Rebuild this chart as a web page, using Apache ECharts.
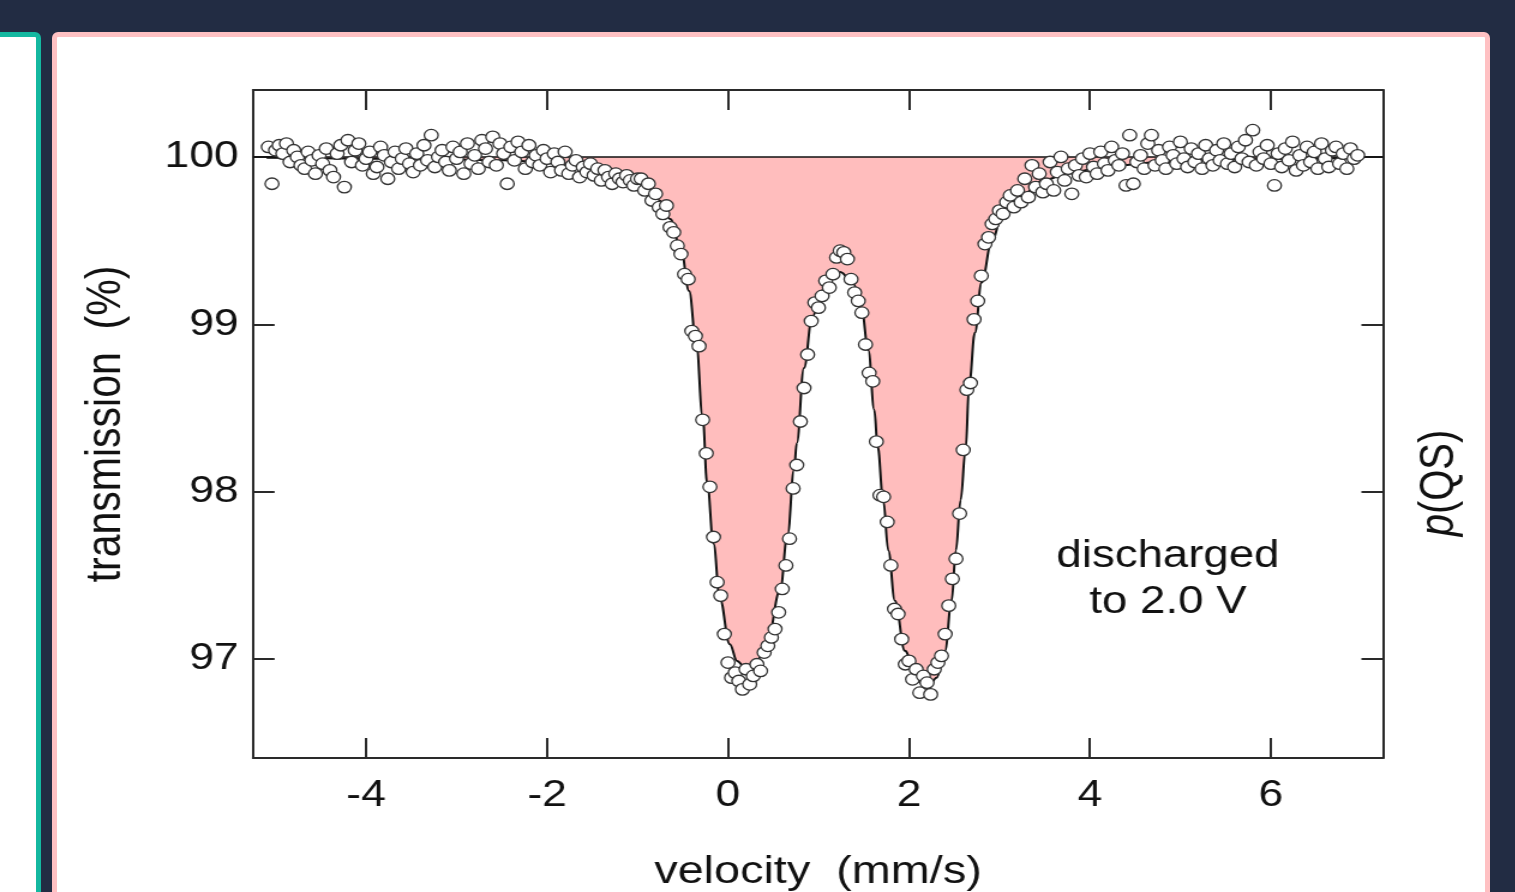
<!DOCTYPE html>
<html>
<head>
<meta charset="utf-8">
<title>transmission vs velocity</title>
<script src="https://cdn.jsdelivr.net/npm/echarts@6/dist/echarts.min.js"></script>
<style>
    html, body {
        margin: 0;
        padding: 0;
        width: 1515px;
        height: 892px;
        overflow: hidden;
        background: #222c43;
    }
    .card-left {
        position: absolute;
        left: -30px;
        top: 32px;
        width: 71px;
        height: 1000px;
        box-sizing: border-box;
        border: 5px solid #14b8a0;
        border-radius: 6px;
        background: #fff;
    }
    .card-main {
        position: absolute;
        left: 52px;
        top: 32px;
        width: 1438px;
        height: 1000px;
        box-sizing: border-box;
        border: 5px solid #ffc1c3;
        border-radius: 6px;
        background: #fff;
    }
    /* the source figure is stretched sideways, so the chart is too */
    #chart {
        position: absolute;
        left: 0;
        top: 0;
        width: 1263px;
        height: 892px;
        transform: scaleX(1.2);
        transform-origin: 0 0;
    }
</style>
</head>
<body>
<div class="card-left"></div>
<div class="card-main"></div>
<div id="chart"></div>

<script>
    // measured points, velocity (mm/s)
    const velocity = [
        -5.08, -5.04, -5.00, -4.96, -4.92, -4.88, -4.84, -4.80, -4.76, -4.72,
        -4.68, -4.64, -4.60, -4.56, -4.52, -4.48, -4.44, -4.40, -4.36, -4.32,
        -4.28, -4.24, -4.20, -4.16, -4.12, -4.08, -4.04, -4.00, -3.96, -3.92,
        -3.88, -3.84, -3.80, -3.76, -3.72, -3.68, -3.64, -3.60, -3.56, -3.52,
        -3.48, -3.44, -3.40, -3.36, -3.32, -3.28, -3.24, -3.20, -3.16, -3.12,
        -3.08, -3.04, -3.00, -2.96, -2.92, -2.88, -2.84, -2.80, -2.76, -2.72,
        -2.68, -2.64, -2.60, -2.56, -2.52, -2.48, -2.44, -2.40, -2.36, -2.32,
        -2.28, -2.24, -2.20, -2.16, -2.12, -2.08, -2.04, -2.00, -1.96, -1.92,
        -1.88, -1.84, -1.80, -1.76, -1.72, -1.68, -1.64, -1.60, -1.56, -1.52,
        -1.48, -1.44, -1.40, -1.36, -1.32, -1.28, -1.24, -1.20, -1.16, -1.12,
        -1.08, -1.04, -1.00, -0.96, -0.92, -0.88, -0.84, -0.80, -0.76, -0.72,
        -0.68, -0.64, -0.60, -0.56, -0.52, -0.48, -0.44, -0.40, -0.36, -0.32,
        -0.28, -0.24, -0.20, -0.16, -0.12, -0.08, -0.04, 0.00, 0.04, 0.08,
        0.12, 0.16, 0.20, 0.24, 0.28, 0.32, 0.36, 0.40, 0.44, 0.48,
        0.52, 0.56, 0.60, 0.64, 0.68, 0.72, 0.76, 0.80, 0.84, 0.88,
        0.92, 0.96, 1.00, 1.04, 1.08, 1.12, 1.16, 1.20, 1.24, 1.28,
        1.32, 1.36, 1.40, 1.44, 1.48, 1.52, 1.56, 1.60, 1.64, 1.68,
        1.72, 1.76, 1.80, 1.84, 1.88, 1.92, 1.96, 2.00, 2.04, 2.08,
        2.12, 2.16, 2.20, 2.24, 2.28, 2.32, 2.36, 2.40, 2.44, 2.48,
        2.52, 2.56, 2.60, 2.64, 2.68, 2.72, 2.76, 2.80, 2.84, 2.88,
        2.92, 2.96, 3.00, 3.04, 3.08, 3.12, 3.16, 3.20, 3.24, 3.28,
        3.32, 3.36, 3.40, 3.44, 3.48, 3.52, 3.56, 3.60, 3.64, 3.68,
        3.72, 3.76, 3.80, 3.84, 3.88, 3.92, 3.96, 4.00, 4.04, 4.08,
        4.12, 4.16, 4.20, 4.24, 4.28, 4.32, 4.36, 4.40, 4.44, 4.48,
        4.52, 4.56, 4.60, 4.64, 4.68, 4.72, 4.76, 4.80, 4.84, 4.88,
        4.92, 4.96, 5.00, 5.04, 5.08, 5.12, 5.16, 5.20, 5.24, 5.28,
        5.32, 5.36, 5.40, 5.44, 5.48, 5.52, 5.56, 5.60, 5.64, 5.68,
        5.72, 5.76, 5.80, 5.84, 5.88, 5.92, 5.96, 6.00, 6.04, 6.08,
        6.12, 6.16, 6.20, 6.24, 6.28, 6.32, 6.36, 6.40, 6.44, 6.48,
        6.52, 6.56, 6.60, 6.64, 6.68, 6.72, 6.76, 6.80, 6.84, 6.88,
        6.92, 6.96
    ];

    // measured points, transmission (%)
    const transmission = [
        // left wing
        100.06, 99.84, 100.04, 100.07, 100.02, 100.08, 99.97, 100.04, 100.00, 99.95,
        99.93, 100.03, 99.98, 99.90, 100.01, 99.96, 100.05, 99.92, 99.88, 100.02,
        100.07, 99.82, 100.10, 99.97, 100.04, 100.08, 99.95, 99.99, 100.03, 99.90,
        99.94, 100.06, 100.01, 99.87, 99.97, 100.03, 99.93, 99.99, 100.05, 99.96,
        99.91, 100.02, 99.95, 100.07, 99.98, 100.13, 99.94, 100.00, 100.04, 99.97,
        99.92, 100.06, 99.99, 100.03, 99.90, 100.08, 99.96, 100.01, 99.93, 100.10,
        100.05, 99.97, 100.12, 99.95, 100.08, 100.02, 99.84, 100.06, 99.98, 100.09,
        100.03, 99.93, 100.07, 99.97, 100.01, 99.95, 100.04, 99.99, 99.91, 100.02,
        99.97, 99.92, 100.03, 99.90, 99.95, 99.98, 99.88, 99.94, 99.91, 99.96,
        99.89, 99.93, 99.86, 99.92, 99.88, 99.84, 99.90, 99.87, 99.85, 99.89,
        99.86, 99.83, 99.87,
        // doublet
        99.87, 99.80, 99.84, 99.74, 99.78, 99.70, 99.66, 99.71, 99.58, 99.55,
        99.47, 99.42, 99.30, 99.27, 98.96, 98.93, 98.87, 98.43, 98.23, 98.03,
        97.73, 97.46, 97.38, 97.15, 96.98, 96.89, 96.92, 96.87, 96.82, 96.94,
        96.85, 96.90, 96.97, 96.93, 97.04, 97.08, 97.13, 97.18, 97.28, 97.42,
        97.56, 97.72, 98.02, 98.16, 98.42, 98.62, 98.82, 99.02, 99.13, 99.10,
        99.17, 99.26, 99.22, 99.30, 99.40, 99.44, 99.43, 99.39, 99.27, 99.19,
        99.14, 99.07, 98.88, 98.71, 98.66, 98.30, 97.98, 97.97, 97.82, 97.56,
        97.30, 97.27, 97.12, 96.97, 96.99, 96.88, 96.94, 96.80, 96.90, 96.86,
        96.79, 96.94, 96.98, 97.02, 97.15, 97.32, 97.48, 97.60, 97.87, 98.25,
        98.61, 98.65, 99.03, 99.14, 99.29, 99.48, 99.52, 99.60, 99.63, 99.68,
        99.66, 99.73, 99.77, 99.70, 99.80, 99.73, 99.87, 99.76, 99.95, 99.82,
        99.90, 99.79,
        // right wing
        99.84, 99.97, 99.80, 99.91, 100.00, 99.86, 99.93, 99.78, 99.95, 99.89,
        99.99, 99.88, 100.02, 99.94, 99.90, 100.03, 99.96, 99.92, 100.06, 99.98,
        99.95, 100.02, 99.83, 100.13, 99.84, 99.97, 100.01, 99.93, 100.08, 100.13,
        99.95, 100.04, 99.98, 99.93, 100.06, 100.01, 99.96, 100.09, 99.99, 99.94,
        100.05, 99.97, 100.02, 99.93, 100.07, 99.99, 99.95, 100.04, 99.98, 100.08,
        99.96, 100.02, 99.94, 100.06, 99.99, 100.10, 99.97, 100.16, 99.95, 100.03,
        99.99, 100.07, 99.96, 99.83, 100.02, 99.94, 100.05, 99.98, 100.09, 99.92,
        100.01, 99.95, 100.06, 99.97, 100.03, 99.93, 100.08, 99.99, 99.94, 100.04,
        100.06, 99.96, 100.02, 99.93, 100.05, 99.99, 100.01
    ];

    // fitted curve
    const fitVelocity = [
        -5.1, -4.5, -4, -3.5, -3, -2.5, -2, -1.7, -1.4, -1.2,
        -1.0, -0.88, -0.76, -0.64, -0.52, -0.43, -0.35, -0.28, -0.23, -0.16,
        -0.09, 0.02, 0.1, 0.19, 0.27, 0.32, 0.44, 0.575, 0.66, 0.73,
        0.76, 0.84, 0.93, 1.03, 1.16, 1.24, 1.385, 1.477, 1.551, 1.617,
        1.654, 1.716, 1.772, 1.845, 1.956, 2.085, 2.213, 2.306, 2.398, 2.472,
        2.519, 2.571, 2.626, 2.667, 2.729, 2.803, 2.914, 3.024, 3.227, 3.48,
        3.8, 4.2, 4.8, 5.5, 6.2, 7.0
    ];
    const fitTransmission = [
        99.995, 99.993, 99.99, 99.988, 99.985, 99.98, 99.97, 99.955, 99.925, 99.895,
        99.86, 99.81, 99.74, 99.63, 99.45, 99.2, 98.88, 98.45, 98.05, 97.69,
        97.36, 97.09, 96.99, 96.95, 96.965, 96.99, 97.12, 97.41, 97.75, 98.13,
        98.29, 98.74, 99.04, 99.2, 99.305, 99.313, 99.245, 99.085, 98.846, 98.49,
        98.27, 97.95, 97.65, 97.35, 97.05, 96.87, 96.83, 96.89, 97.05, 97.35,
        97.65, 97.95, 98.25, 98.65, 98.95, 99.25, 99.49, 99.64, 99.76, 99.86,
        99.91, 99.945, 99.97, 99.985, 99.99, 99.995
    ];

    const baseline = 100;
    const xTicks = [-4, -2, 0, 2, 4, 6];
    const yTicks = [97, 98, 99, 100];

    if (velocity.length !== transmission.length) {
        console.error('point arrays differ', velocity.length, transmission.length);
    }

    const font = "'Liberation Sans', Arial, Helvetica, sans-serif";
    const ink = '#2a2a2a';

    const points = velocity.map((v, i) => [v, transmission[i]]);
    const fit = fitVelocity.map((v, i) => [v, fitTransmission[i]]);

    const chart = echarts.init(document.getElementById('chart'));

    const axisLine = { show: true, onZero: false, lineStyle: { color: ink, width: 2 } };

    const option = {
        animation: false,
        grid: {
            left: 210.8,
            top: 90,
            width: 941.7,
            height: 668,
            outerBoundsMode: 'none'
        },
        xAxis: [{
            type: 'value',
            position: 'bottom',
            min: -5.25,
            max: 7.24,
            axisLine: axisLine,
            axisTick: {
                inside: true,
                length: 20,
                customValues: xTicks,
                lineStyle: { color: ink, width: 2 }
            },
            axisLabel: {
                customValues: xTicks,
                margin: 19,
                fontSize: 37,
                color: '#111',
                fontFamily: font
            },
            splitLine: { show: false },
            name: 'velocity  (mm/s)',
            nameLocation: 'middle',
            nameGap: 95,
            nameTextStyle: { fontSize: 39, color: '#111', fontFamily: font }
        }, {
            type: 'value',
            position: 'top',
            min: -5.25,
            max: 7.24,
            axisLine: axisLine,
            axisTick: {
                inside: true,
                length: 20,
                customValues: xTicks,
                lineStyle: { color: ink, width: 2 }
            },
            axisLabel: { show: false },
            splitLine: { show: false }
        }],
        yAxis: [{
            type: 'value',
            position: 'left',
            min: 96.41,
            max: 100.4,
            axisLine: axisLine,
            axisTick: {
                inside: true,
                length: 18,
                customValues: yTicks,
                lineStyle: { color: ink, width: 2 }
            },
            axisLabel: {
                customValues: yTicks,
                margin: 12,
                fontSize: 37,
                color: '#111',
                fontFamily: font
            },
            splitLine: { show: false },
            name: 'transmission  (%)',
            nameLocation: 'middle',
            nameRotate: 90,
            nameGap: 102,
            nameTextStyle: { fontSize: 41, color: '#111', fontFamily: font }
        }, {
            type: 'value',
            position: 'right',
            min: 96.41,
            max: 100.4,
            axisLine: axisLine,
            axisTick: {
                inside: true,
                length: 18,
                customValues: yTicks,
                lineStyle: { color: ink, width: 2 }
            },
            axisLabel: { show: false },
            splitLine: { show: false }
        }],
        graphic: [{
            type: 'text',
            x: 973.3,
            y: 580,
            style: {
                text: 'discharged\nto 2.0 V',
                align: 'center',
                verticalAlign: 'middle',
                fontSize: 38,
                lineHeight: 46,
                fill: '#111',
                fontFamily: font
            }
        }, {
            // label of the right axis, sits below the middle in the source
            type: 'text',
            x: 1200,
            y: 483,
            rotation: Math.PI / 2,
            style: {
                text: '{i|p}(QS)',
                align: 'center',
                verticalAlign: 'middle',
                fontSize: 40,
                fill: '#111',
                fontFamily: font,
                rich: {
                    i: { fontSize: 40, fontStyle: 'italic', fill: '#111', fontFamily: font }
                }
            }
        }],
        series: [{
            name: 'fit',
            type: 'line',
            data: fit,
            smooth: 0.4,
            smoothMonotone: 'x',
            showSymbol: false,
            lineStyle: { color: '#111', width: 2 },
            areaStyle: { color: '#ffbdbd', opacity: 1, origin: baseline },
            markLine: {
                silent: true,
                symbol: 'none',
                label: { show: false },
                lineStyle: { color: '#111', width: 1.5, type: 'solid' },
                data: [{ yAxis: baseline }]
            },
            z: 2
        }, {
            name: 'data',
            type: 'scatter',
            data: points,
            symbol: 'circle',
            symbolSize: 11.5,
            itemStyle: {
                color: '#fff',
                borderColor: '#333',
                borderWidth: 1.3,
                opacity: 1
            },
            z: 5
        }]
    };

    chart.setOption(option);
</script>
</body>
</html>
